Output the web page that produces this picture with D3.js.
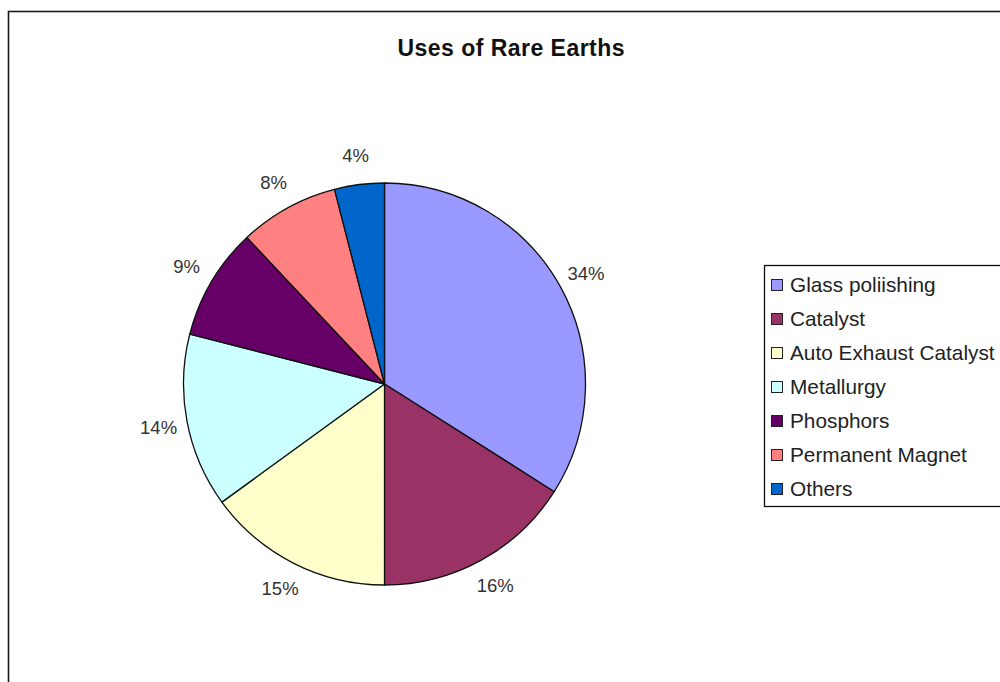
<!DOCTYPE html>
<html>
<head>
<meta charset="utf-8">
<script src="https://cdn.jsdelivr.net/npm/d3@7/dist/d3.min.js"></script>
<style>
  html, body { margin: 0; padding: 0; background: #fff; }
  svg { display: block; font-family: "Liberation Sans", Arial, sans-serif; }
</style>
</head>
<body>
<svg id="chart" width="1000" height="682"></svg>
<script>
// Uses of rare earths, share of total (%)
const categories = ["Glass poliishing", "Catalyst", "Auto Exhaust Catalyst", "Metallurgy", "Phosphors", "Permanent Magnet", "Others"];
const shares = [34, 16, 15, 14, 9, 8, 4];
const colors = ["#9999FF", "#993366", "#FFFFCC", "#CCFFFF", "#660066", "#FF8080", "#0066CC"];

const svg = d3.select("#chart");
const W = 1000, H = 682;

// outer chart frame (runs off the right and bottom edges)
svg.append("rect")
  .attr("x", 8.5).attr("y", 11.5)
  .attr("width", W + 20).attr("height", H + 20)
  .attr("fill", "#fff")
  .attr("stroke", "#1a1a1a").attr("stroke-width", 1.6);

svg.append("text")
  .attr("x", 511).attr("y", 56)
  .attr("text-anchor", "middle")
  .attr("font-size", 23).attr("font-weight", "bold")
  .attr("textLength", 227).attr("lengthAdjust", "spacing")
  .attr("fill", "#111")
  .text("Uses of Rare Earths");

const cx = 384.5, cy = 384, r = 201, labelR = 230;

const pie = d3.pie().sort(null).value(d => d.v);
const arcs = pie(categories.map((c, i) => ({ c, v: shares[i], col: colors[i] })));
const arc = d3.arc().innerRadius(0).outerRadius(r);
const labelArc = d3.arc().innerRadius(labelR).outerRadius(labelR);

const g = svg.append("g").attr("transform", `translate(${cx},${cy})`);

g.selectAll("path.slice")
  .data(arcs)
  .join("path")
  .attr("class", "slice")
  .attr("d", arc)
  .attr("fill", d => d.data.col)
  .attr("stroke", "#111")
  .attr("stroke-width", 1.3)
  .attr("stroke-linejoin", "round");

g.selectAll("text.pct")
  .data(arcs)
  .join("text")
  .attr("class", "pct")
  .attr("transform", d => `translate(${labelArc.centroid(d)})`)
  .attr("text-anchor", "middle")
  .attr("dy", "0.35em")
  .attr("font-size", 18.5)
  .attr("fill", "#333")
  .text(d => d.data.v + "%");

// legend
const lg = svg.append("g");
lg.append("rect")
  .attr("x", 764.5).attr("y", 265.5)
  .attr("width", 260).attr("height", 241)
  .attr("fill", "#fff")
  .attr("stroke", "#111").attr("stroke-width", 1.3);

const rowY = d3.scalePoint().domain(categories).range([285, 489]);

const items = lg.selectAll("g.item")
  .data(categories)
  .join("g")
  .attr("class", "item")
  .attr("transform", d => `translate(0,${rowY(d)})`);

items.append("rect")
  .attr("x", 771.5).attr("y", -5.5)
  .attr("width", 11).attr("height", 11)
  .attr("fill", (d, i) => colors[i])
  .attr("stroke", "#222").attr("stroke-width", 1);

items.append("text")
  .attr("x", 790).attr("dy", "0.35em")
  .attr("font-size", 20.8)
  .attr("fill", "#222")
  .text(d => d);
</script>
</body>
</html>
